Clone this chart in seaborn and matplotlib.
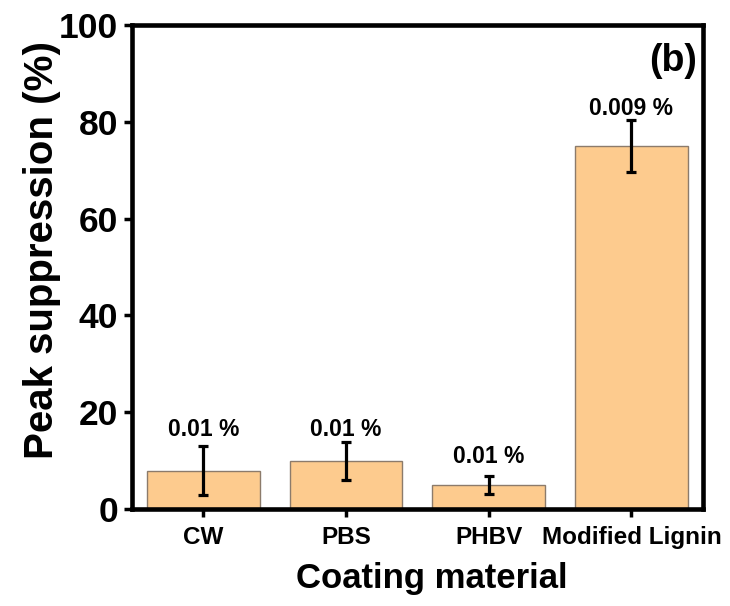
import matplotlib
matplotlib.use("Agg")
import matplotlib.pyplot as plt
import seaborn as sns
import pandas as pd

materials = ["CW", "PBS", "PHBV", "Modified Lignin"]
suppression = [7.9, 9.9, 5.0, 75.0]
errors = [5.1, 4.0, 1.8, 5.3]
annotations = ["0.01 %", "0.01 %", "0.01 %", "0.009 %"]
annotation_levels = [15.0, 15.0, 9.6, 81.4]

sns.set_theme(style="ticks")
plt.rcParams["font.family"] = ["Liberation Sans", "DejaVu Sans"]
plt.rcParams["font.weight"] = "bold"
plt.rcParams["text.color"] = "black"
plt.rcParams["axes.labelcolor"] = "black"

df = pd.DataFrame({"material": materials, "value": suppression})

fig = plt.figure(figsize=(7.3, 6.06), dpi=100)
ax = fig.add_axes([0.1808, 0.160, 0.782, 0.7987])

sns.barplot(data=df, x="material", y="value", color="#FDCB8E", saturation=1,
            edgecolor="#8C7B6B", linewidth=1.0, width=0.79, ax=ax, errorbar=None)

xs = list(range(len(materials)))
ax.errorbar(xs, suppression, yerr=errors, fmt="none", ecolor="black",
            elinewidth=2.3, capsize=3.8, capthick=2.3, zorder=5)

for x, lv, t in zip(xs, annotation_levels, annotations):
    ax.text(x, lv, t, ha="center", va="baseline", fontsize=16.5,
            fontweight="bold", color="black")

ax.set_xlim(-0.5, 3.5)
ax.set_ylim(0, 100)
ax.set_yticks([0, 20, 40, 60, 80, 100])

for s in ax.spines.values():
    s.set_linewidth(3.3)
    s.set_color("black")
    s.set_visible(True)

ax.tick_params(axis="both", direction="out", length=6, width=2.5, colors="black")
ax.tick_params(axis="y", labelsize=25.5, pad=4)
ax.tick_params(axis="x", labelsize=17.5, pad=6)
for lab in ax.get_xticklabels() + ax.get_yticklabels():
    lab.set_fontweight("bold")
    lab.set_color("black")

ax.set_xlabel("Coating material", fontsize=25, fontweight="bold", labelpad=8)
ax.xaxis.set_label_coords(0.525, -0.11)
ax.set_ylabel("Peak suppression (%)", fontsize=29, fontweight="bold", labelpad=6)
ax.yaxis.set_label_coords(-0.125, 0.535)

ax.text(0.99, 0.962, "(b)", transform=ax.transAxes, ha="right", va="top",
        fontsize=27, fontweight="bold", color="black")

fig.savefig("out.png", dpi=100)
